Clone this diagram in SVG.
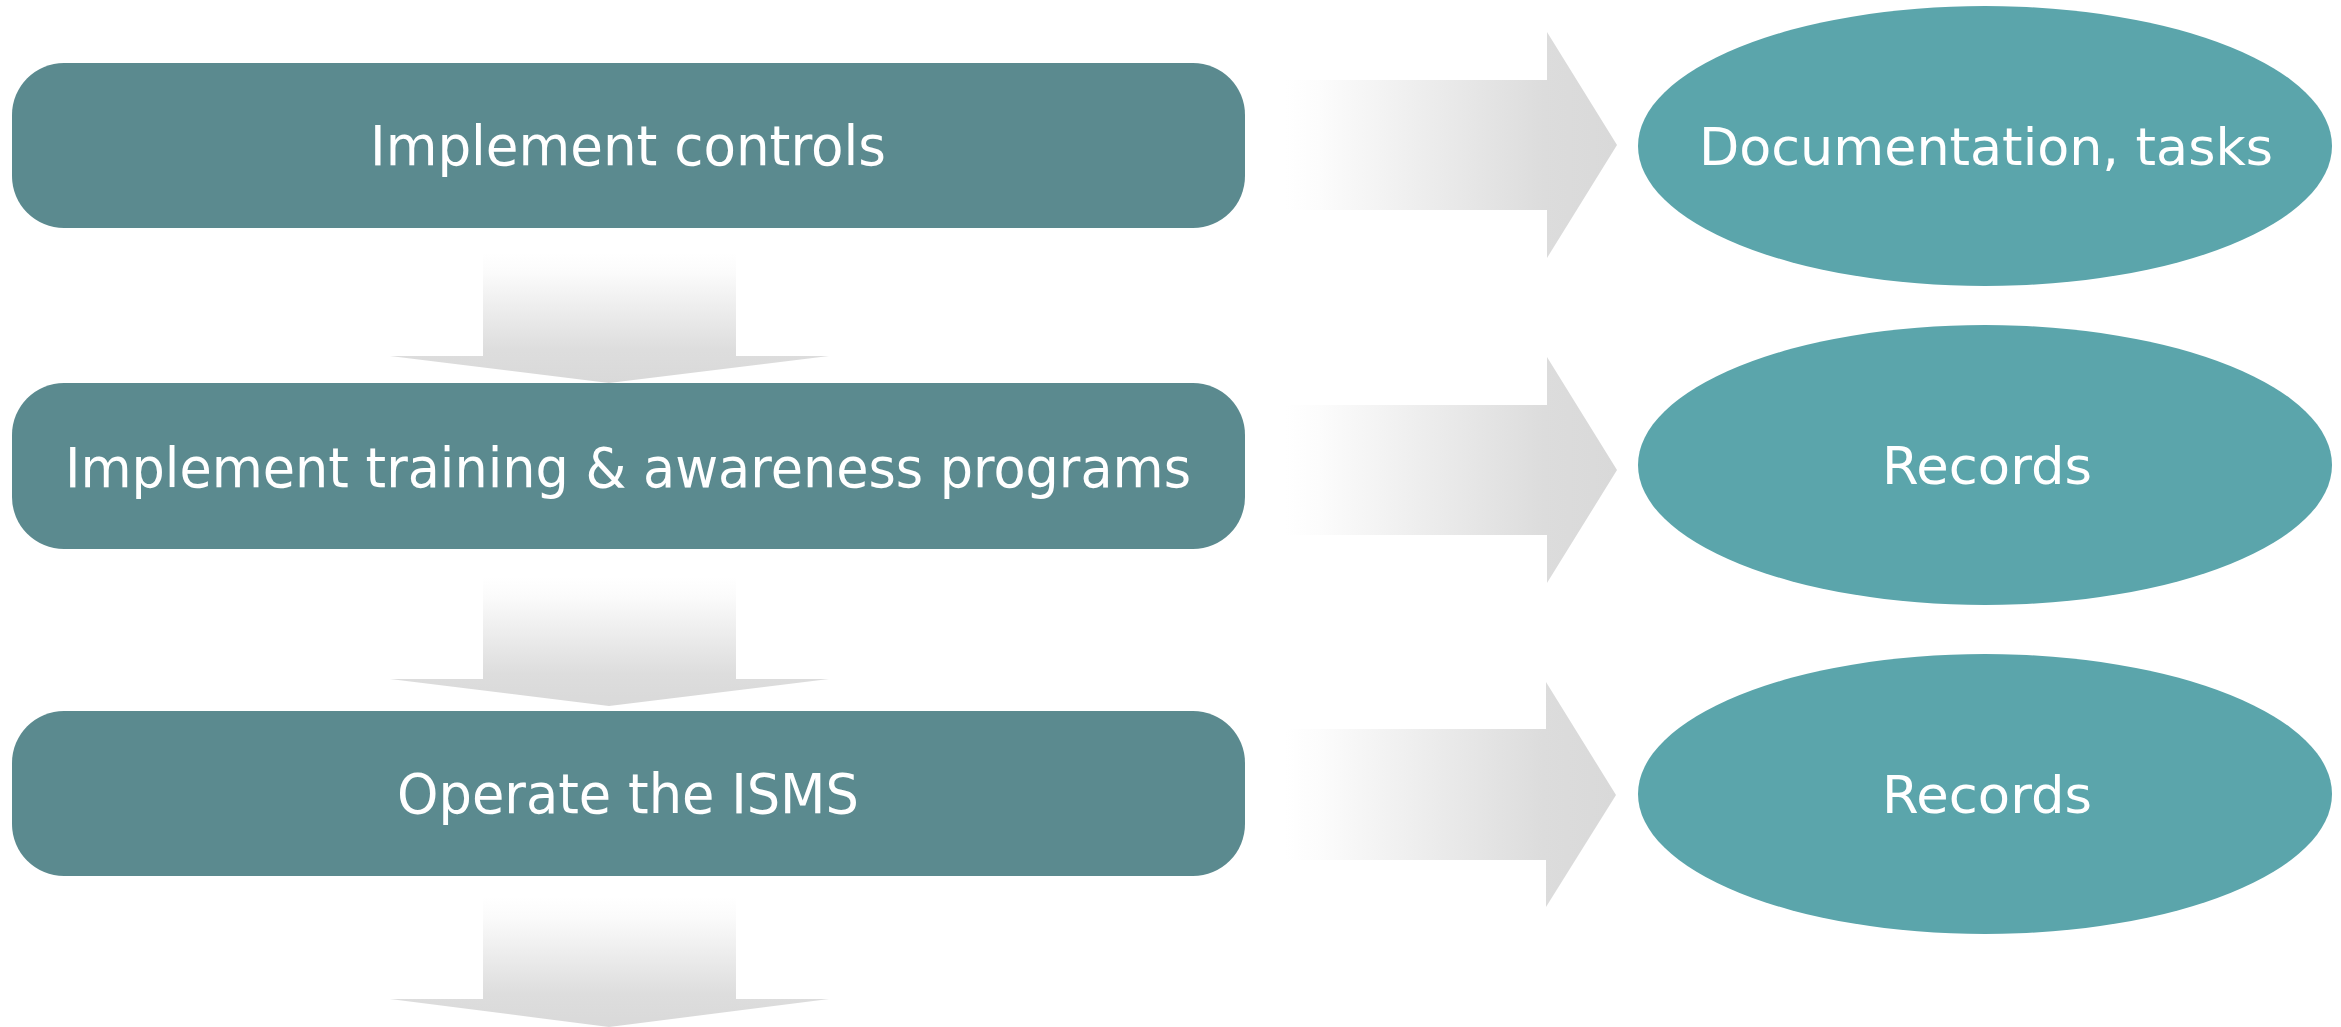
<svg xmlns="http://www.w3.org/2000/svg" width="2341" height="1027" viewBox="0 0 2341 1027">
  <defs>
    <linearGradient id="gDown" x1="0" y1="0" x2="0" y2="1">
      <stop offset="0" stop-color="#ffffff"/>
      <stop offset="0.15" stop-color="#fbfbfb"/>
      <stop offset="0.75" stop-color="#dddddd"/>
      <stop offset="1" stop-color="#d9d9d9"/>
    </linearGradient>
    <linearGradient id="gRight" x1="0" y1="0" x2="1" y2="0">
      <stop offset="0" stop-color="#ffffff"/>
      <stop offset="0.1" stop-color="#fcfcfc"/>
      <stop offset="0.78" stop-color="#dcdcdc"/>
      <stop offset="1" stop-color="#d9d9d9"/>
    </linearGradient>
    <style>
      .box { fill: #5B8A8F; }
      .oval { fill: #5BA5AB; }
      .down { fill: url(#gDown); }
      .right { fill: url(#gRight); }
      .t { font-family: "DejaVu Sans", "Noto Sans", "Liberation Sans", sans-serif; fill: #ffffff; text-anchor: middle; }
      .tb { font-size: 55px; }
      .te { font-size: 52px; }
    </style>
  </defs>
  <rect width="2341" height="1027" fill="#ffffff"/>

  <g id="connectors">
    <polygon class="down" points="483,253 736,253 736,356 829,356 609,383 390,356 483,356"/>
    <polygon class="down" points="483,577 736,577 736,679 829,679 609,706 390,679 483,679"/>
    <polygon class="down" points="483,897 736,897 736,999 829,999 609,1027 390,999 483,999"/>
    <polygon class="right" points="1286,80 1547,80 1547,32 1617,145 1547,258 1547,210 1286,210"/>
    <polygon class="right" points="1286,405 1547,405 1547,357 1617,470 1547,583 1547,535 1286,535"/>
    <polygon class="right" points="1285,729 1546,729 1546,682 1616,795 1546,907 1546,860 1285,860"/>
  </g>

  <g id="step1">
    <rect class="box" x="12" y="63" width="1233" height="165" rx="52" ry="52"/>
    <text class="t tb" x="628" y="165" textLength="516" lengthAdjust="spacingAndGlyphs">Implement controls</text>
  </g>
  <g id="step2">
    <rect class="box" x="12" y="383" width="1233" height="166" rx="52" ry="52"/>
    <text class="t tb" x="628" y="487" textLength="1126" lengthAdjust="spacingAndGlyphs">Implement training &amp; awareness programs</text>
  </g>
  <g id="step3">
    <rect class="box" x="12" y="711" width="1233" height="165" rx="52" ry="52"/>
    <text class="t tb" x="628" y="813" textLength="462" lengthAdjust="spacingAndGlyphs">Operate the ISMS</text>
  </g>

  <g id="output1">
    <ellipse class="oval" cx="1985" cy="146" rx="347" ry="140"/>
    <text class="t te" x="1986" y="165" textLength="574" lengthAdjust="spacingAndGlyphs">Documentation, tasks</text>
  </g>
  <g id="output2">
    <ellipse class="oval" cx="1985" cy="465" rx="347" ry="140"/>
    <text class="t te" x="1987" y="484" textLength="210" lengthAdjust="spacingAndGlyphs">Records</text>
  </g>
  <g id="output3">
    <ellipse class="oval" cx="1985" cy="794" rx="347" ry="140"/>
    <text class="t te" x="1987" y="813" textLength="210" lengthAdjust="spacingAndGlyphs">Records</text>
  </g>
</svg>
